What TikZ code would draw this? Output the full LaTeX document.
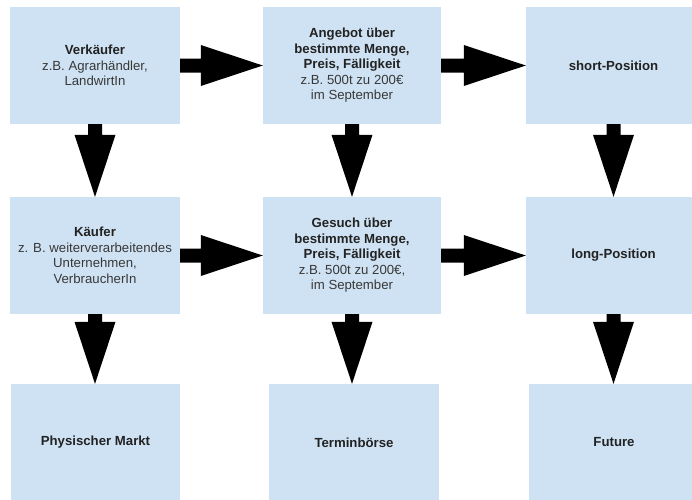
\documentclass[tikz,border=0pt]{standalone}
\usepackage{fontspec}
\setmainfont{Liberation Sans}
\usetikzlibrary{calc}
\definecolor{boxblue}{HTML}{CFE2F3}
\definecolor{titlegray}{HTML}{222222}
\definecolor{subgray}{HTML}{383838}
\tikzset{
  box/.style={fill=boxblue, draw=none, inner sep=0pt, align=center,
    minimum height=117pt, font=\fontsize{13.2}{15.5}\selectfont, text=titlegray},
  blockarrow/.style={fill=black},
}
\newcommand{\subtxt}[1]{{\mdseries\color{subgray}#1}}
\newcommand{\rblockarrow}[2]{%
  \fill[blockarrow] let \p1=(#1.east), \p2=(#2.west) in
    (\x1,\y1+7pt) -- (\x2-62pt,\y1+7pt) -- (\x2-62pt,\y1+20.5pt) -- (\x2,\y1)
    -- (\x2-62pt,\y1-20.5pt) -- (\x2-62pt,\y1-7pt) -- (\x1,\y1-7pt) -- cycle;}
\newcommand{\dblockarrow}[2]{%
  \fill[blockarrow] let \p1=(#1.south), \p2=(#2.north) in
    (\x1+7pt,\y1) -- (\x1+7pt,\y2+62pt) -- (\x1+20.5pt,\y2+62pt) -- (\x1,\y2)
    -- (\x1-20.5pt,\y2+62pt) -- (\x1-7pt,\y2+62pt) -- (\x1-7pt,\y1) -- cycle;}
\begin{document}
\begin{tikzpicture}[x=1pt,y=-1pt]
\useasboundingbox (0,0) rectangle (692,499);
\clip (0,0) rectangle (692,499);
% row 1
\node[box, minimum width=170pt] (verk) at (95,65.5)
  {\textbf{Verkäufer}\\ \subtxt{z.B. Agrarhändler,}\\ \subtxt{LandwirtIn}};
\node[box, minimum width=178pt] (angebot) at (352,65.5)
  {\textbf{Angebot über}\\ \textbf{bestimmte Menge,}\\ \textbf{Preis, Fälligkeit}\\ \subtxt{z.B. 500t zu 200€}\\ \subtxt{im September}};
\node[box, minimum width=175pt] (short) at (613.5,65.5) {\textbf{short-Position}};
% row 2
\node[box, minimum width=170pt] (kauf) at (95,255.5)
  {\textbf{Käufer}\\ \subtxt{z. B. weiterverarbeitendes}\\ \subtxt{Unternehmen,}\\ \subtxt{VerbraucherIn}};
\node[box, minimum width=178pt] (gesuch) at (352,255.5)
  {\textbf{Gesuch über}\\ \textbf{bestimmte Menge,}\\ \textbf{Preis, Fälligkeit}\\ \subtxt{z.B. 500t zu 200€,}\\ \subtxt{im September}};
\node[box, minimum width=175pt] (long) at (613.5,255.5) {\textbf{long-Position}};
% row 3
\node[box, minimum width=169pt] (phys) at (95.5,442.5) {\textbf{Physischer Markt}};
\node[box, minimum width=170pt] (termin) at (354,442.5) {\textbf{Terminbörse}};
\node[box, minimum width=170pt] (future) at (614,442.5) {\textbf{Future}};
% arrows
\rblockarrow{verk}{angebot}
\rblockarrow{angebot}{short}
\rblockarrow{kauf}{gesuch}
\rblockarrow{gesuch}{long}
\dblockarrow{verk}{kauf}
\dblockarrow{angebot}{gesuch}
\dblockarrow{short}{long}
\dblockarrow{kauf}{phys}
\dblockarrow{gesuch}{termin}
\dblockarrow{long}{future}
\end{tikzpicture}
\end{document}
